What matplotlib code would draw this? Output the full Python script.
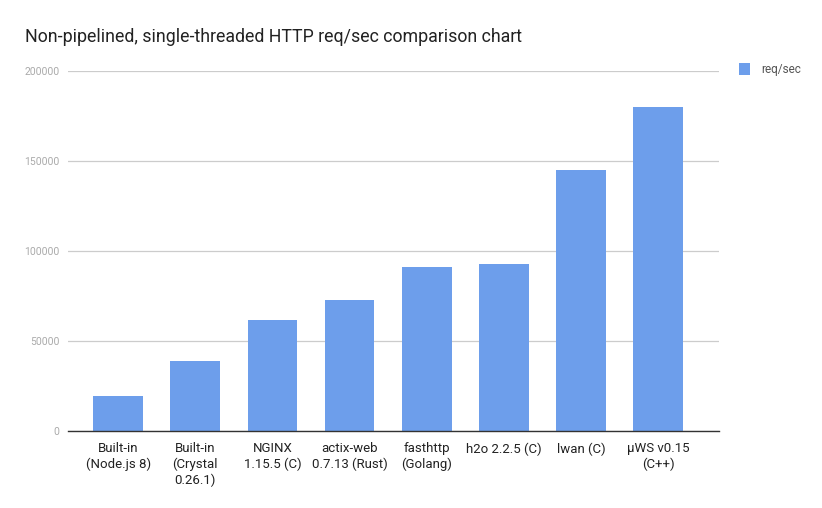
import numpy as np
import matplotlib.pyplot as plt

plt.rcParams['font.family'] = ['Roboto', 'DejaVu Sans']

servers = ['Built-in\n(Node.js 8)', 'Built-in\n(Crystal\n0.26.1)', 'NGINX\n1.15.5 (C)',
           'actix-web\n0.7.13 (Rust)', 'fasthttp\n(Golang)', 'h2o 2.2.5 (C)',
           'lwan (C)', 'μWS v0.15\n(C++)']
req_sec = [19600, 39100, 61800, 72900, 91200, 92900, 145200, 180200]
yticks = [0, 50000, 100000, 150000, 200000]

fig = plt.figure(figsize=(8.22, 5.08), dpi=100)
ax = fig.add_axes([68/822, 1 - 431.3/508, 651/822, 360/508])

x = np.arange(len(servers))
ax.bar(x, req_sec, width=0.645, color='#6d9eeb', label='req/sec', zorder=3)

ax.set_ylim(0, 200000)
ax.set_xlim(-0.65, 7.79)
ax.set_yticks(yticks)
ax.set_yticklabels([str(v) for v in yticks], color='#aaaaaa', fontsize=7.5)
ax.set_xticks(x)
ax.set_xticklabels(servers, color='#222222', fontsize=9.5, linespacing=1.25, va='top')
ax.tick_params(axis='both', length=0)
ax.tick_params(axis='x', pad=8)
ax.tick_params(axis='y', pad=6)
ax.yaxis.grid(True, color='#cccccc', linewidth=0.9, zorder=0)
for s in ['top', 'right', 'left']:
    ax.spines[s].set_visible(False)
ax.spines['bottom'].set_color('#333333')
ax.spines['bottom'].set_linewidth(1.0)
ax.spines['bottom'].set_zorder(4)

fig.text(25/822, 1 - 37/508, 'Non-pipelined, single-threaded HTTP req/sec comparison chart',
         fontsize=12.8, color='#222222', va='center', ha='left')

leg = ax.legend(loc='upper left', bbox_to_anchor=(739/822, 1 - 63/508), bbox_transform=fig.transFigure,
                frameon=False, fontsize=8.5, handlelength=0.95, handleheight=1.2, handletextpad=0.9,
                borderpad=0, borderaxespad=0)
for t in leg.get_texts():
    t.set_color('#555555')

plt.savefig('out.png', dpi=100)
